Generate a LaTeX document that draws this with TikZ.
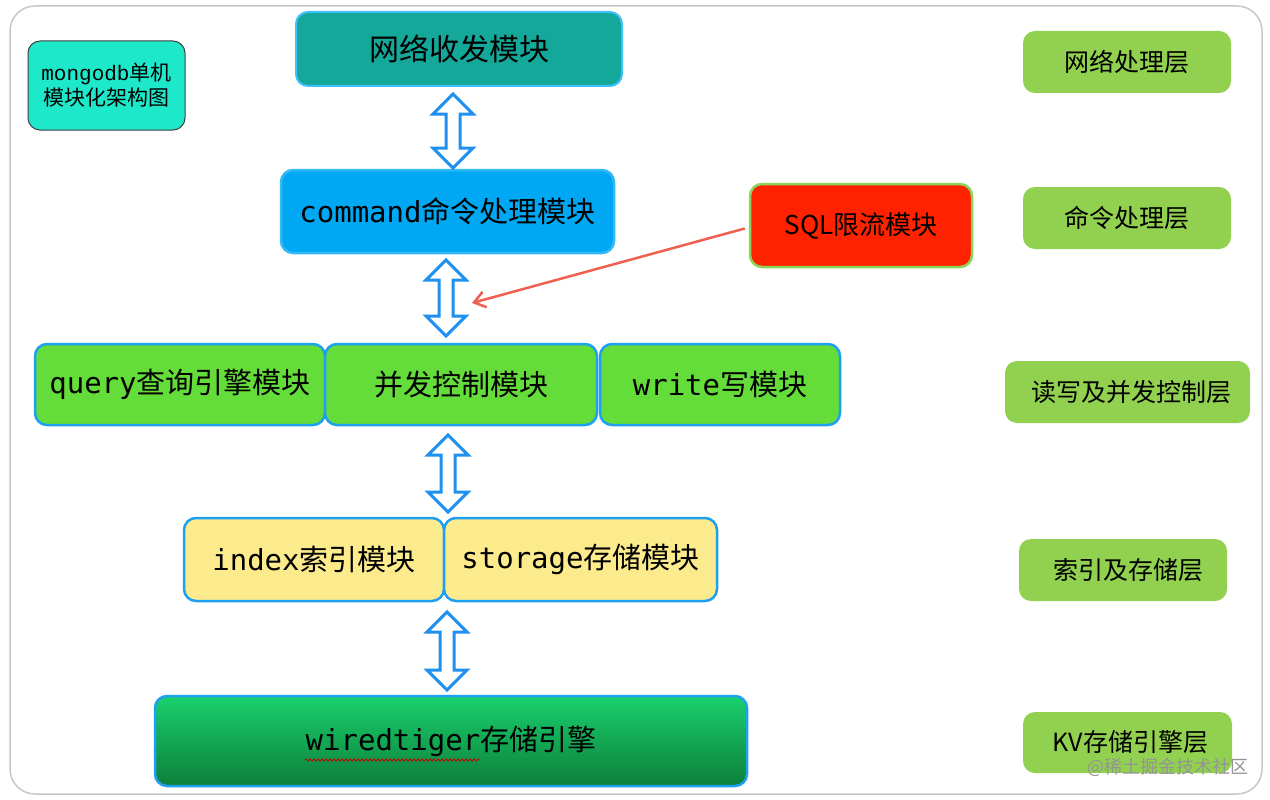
\documentclass[tikz,border=0pt]{standalone}
\usepackage{fontspec}
\setmainfont{Noto Sans CJK SC}
\newfontfamily\monof{DejaVu Sans Mono}
\newfontfamily\courf{Liberation Mono}
\usetikzlibrary{calc,arrows.meta,decorations.pathmorphing}
\definecolor{framec}{HTML}{C8C8C8}
\definecolor{mongoc}{HTML}{1EE8CA}
\definecolor{netc}{HTML}{14A89A}
\definecolor{cmdc}{HTML}{00A8F3}
\definecolor{sqlc}{HTML}{FF2200}
\definecolor{sqlb}{HTML}{8BD35A}
\definecolor{modg}{HTML}{64DC3A}
\definecolor{yelc}{HTML}{FCEB8C}
\definecolor{bdblue}{HTML}{1EA0F0}
\definecolor{arrb}{HTML}{1E90F0}
\definecolor{wttop}{HTML}{1AD06E}
\definecolor{wtbot}{HTML}{0C7F3A}
\definecolor{layc}{HTML}{92D14F}
\definecolor{redar}{HTML}{F06050}
\definecolor{netb}{HTML}{40C0FF}
\newcommand\fs[2]{\fontsize{#1}{#2}\selectfont}
\newcommand\dblarrow[2]{%
  \draw[dbl] (#1) -- ++(20,20) -- ++(-13,0) -- ++(0,#2) -- ++(13,0) -- ++(-20,20)
    -- ++(-20,-20) -- ++(13,0) -- ++(0,-#2) -- ++(-13,0) -- cycle;}
\tikzset{
  box/.style={rounded corners=12pt, inner sep=0pt, align=center, text=black},
  mod/.style={box, draw=bdblue, line width=2.5pt, font=\fs{29}{34}},
  layer/.style={box, fill=layc, minimum height=62pt, font=\fs{25}{30}},
  dbl/.style={draw=arrb, fill=white, line width=3pt, line join=miter},
  redarr/.style={draw=redar, line width=2.5pt, -{Straight Barb[length=11pt,width=16pt,line width=2.5pt]}}
}
\begin{document}
\begin{tikzpicture}[x=1pt,y=-1pt]
\useasboundingbox (0,0) rectangle (1270,800);
\fill[white] (0,0) rectangle (1270,800);
\draw[framec, line width=1.5pt, rounded corners=25pt] (10,6) rectangle (1262,794);

% left title
\node[box, draw=black!75, line width=1pt, fill=mongoc, minimum width=157pt, minimum height=89pt,
      font=\fs{21}{25}] (mongo) at (106.5,85.5) {{\courf mongodb}单机\\模块化架构图};

% modules
\node[box, draw=netb, line width=2pt, fill=netc, minimum width=326pt, minimum height=74pt,
      font=\fs{30}{34}] (net) at (459,49) {网络收发模块};
\node[mod, draw=cmdc!80!white, fill=cmdc, minimum width=333pt, minimum height=83pt] (cmd) at (447.5,211.5) {{\monof command}命令处理模块};
\node[box, draw=sqlb, line width=2.5pt, fill=sqlc, minimum width=222pt, minimum height=83pt,
      font=\fs{26}{30}] (sql) at (861,225.5) {SQL限流模块};

\node[mod, fill=modg, minimum width=290pt, minimum height=81pt] (query) at (180,384.5) {{\monof query}查询引擎模块};
\node[mod, fill=modg, minimum width=272pt, minimum height=81pt] (conc) at (461,384.5) {并发控制模块};
\node[mod, fill=modg, minimum width=240pt, minimum height=81pt] (write) at (720,384.5) {{\monof write}写模块};

\node[mod, fill=yelc, minimum width=260pt, minimum height=83pt] (index) at (314,559.5) {{\monof index}索引模块};
\node[mod, fill=yelc, minimum width=273pt, minimum height=83pt] (storage) at (580.5,559.5) {{\monof storage}存储模块};

\node[mod, top color=wttop, bottom color=wtbot, minimum width=592pt, minimum height=90pt] (wt) at (451,741) {{\monof wiredtiger}存储引擎};
\draw[red!80!black, line width=0.8pt, decorate, decoration={snake, amplitude=1pt, segment length=4pt}]
  ($(wt.center)+(-146,19)$) -- ($(wt.center)+(29,19)$);

% layer labels
\node[layer, minimum width=208pt] (l1) at (1127,62) {网络处理层};
\node[layer, minimum width=208pt] (l2) at (1127,218) {命令处理层};
\node[layer, minimum width=245pt] (l3) at (1127.5,392) {\hspace{8pt}读写及并发控制层};
\node[layer, minimum width=208pt] (l4) at (1123,570) {\hspace{10pt}索引及存储层};
\node[layer, minimum width=209pt, minimum height=61pt] (l5) at (1127.5,742.5) {\hspace{6pt}KV存储引擎层};

% double arrows
\coordinate (a1) at (453,94);
\coordinate (a2) at (446,260);
\coordinate (a3) at (448,435);
\coordinate (a4) at (447,612);
\dblarrow{a1}{34}
\dblarrow{a2}{36}
\dblarrow{a3}{37}
\dblarrow{a4}{38}

% red arrow
\coordinate (tip) at (472,303);
\draw[redarr] ($(sql.west)+(-4,3)$) -- (tip);

% watermark
\node[text=black!42, font=\fs{18}{20}, inner sep=0pt] (wm) at (1168,767) {@稀土掘金技术社区};
\end{tikzpicture}
\end{document}
